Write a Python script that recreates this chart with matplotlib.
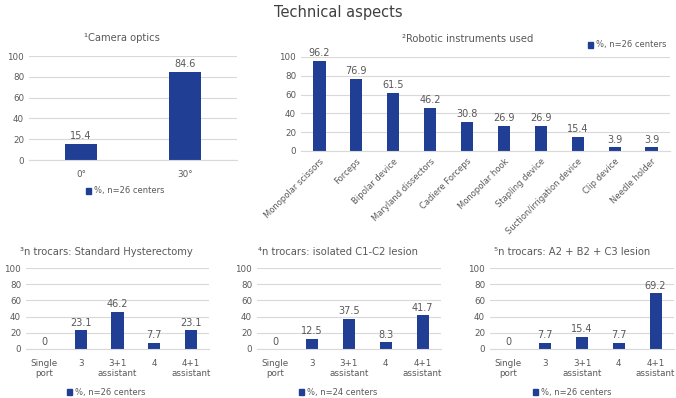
import numpy as np
from matplotlib import pyplot as plt
from matplotlib.patches import Patch

# data
optics_cats = ["0°", "30°"]
optics_vals = [15.4, 84.6]

instr_cats = ["Monopolar scissors", "Forceps", "Bipolar device", "Maryland dissectors",
              "Cadiere Forceps", "Monopolar hook", "Stapling device",
              "Suction/irrigation device", "Clip device", "Needle holder"]
instr_vals = [96.2, 76.9, 61.5, 46.2, 30.8, 26.9, 26.9, 15.4, 3.9, 3.9]

trocar_cats = ["Single\nport", "3", "3+1\nassistant", "4", "4+1\nassistant"]
std_hyst = [0, 23.1, 46.2, 7.7, 23.1]
c1c2 = [0, 12.5, 37.5, 8.3, 41.7]
a2b2c3 = [0, 7.7, 15.4, 7.7, 69.2]

BLUE = "#203f94"
GREY = "#595959"
W, H = 676, 398

plt.rcParams['font.family'] = ['DejaVu Sans']
fig = plt.figure(figsize=(W / 100, H / 100), dpi=100)


def px_axes(x0, x1, ytop, ybot):
    return fig.add_axes([x0 / W, 1 - ybot / H, (x1 - x0) / W, (ybot - ytop) / H])


def style(ax, fs=6.3):
    ax.set_ylim(0, 100)
    ax.set_yticks([0, 20, 40, 60, 80, 100])
    ax.grid(axis='y', color='#d9d9d9', lw=0.8)
    ax.set_axisbelow(True)
    for s in ['top', 'right', 'left']:
        ax.spines[s].set_visible(False)
    ax.spines['bottom'].set_color('#d9d9d9')
    ax.tick_params(length=0, labelsize=fs, colors=GREY)


def labels(ax, x, vals, fs=7):
    for xi, v in zip(x, vals):
        ax.text(xi, v + 3, f"{v:g}", ha='center', va='bottom', fontsize=fs, color=GREY)


def title(txt, xc, yc):
    fig.text(xc / W, 1 - yc / H, txt, ha='center', va='center', fontsize=7.2, color=GREY)


def legend(ax, label, xc, yc):
    h = [Patch(color=BLUE, label=label)]
    ax.legend(handles=h, loc='center', bbox_to_anchor=(xc / W, 1 - yc / H),
              bbox_transform=fig.transFigure, frameon=False, fontsize=6,
              handlelength=0.7, handleheight=0.7, handletextpad=0.3,
              labelcolor=GREY, borderpad=0)


fig.text(0.5, 1 - 12 / H, "Technical aspects", ha='center', va='center', fontsize=10.5, color='#404040')

# camera optics
ax1 = px_axes(29, 237, 56, 160)
x = np.arange(len(optics_cats))
ax1.bar(x, optics_vals, width=0.31, color=BLUE)
style(ax1)
ax1.set_xlim(-0.5, 1.5)
ax1.set_xticks(x, optics_cats)
ax1.tick_params(axis='x', pad=7)
labels(ax1, x, optics_vals)
title("¹Camera optics", 122, 38)
legend(ax1, "%, n=26 centers", 125, 191)

# robotic instruments
ax2 = px_axes(301, 670, 57, 151)
x = np.arange(len(instr_cats))
ax2.bar(x, instr_vals, width=0.33, color=BLUE)
style(ax2, fs=6)
ax2.tick_params(axis='y', labelsize=6.3)
ax2.set_xlim(-0.5, len(instr_cats) - 0.5)
ax2.set_xticks(x, instr_cats, rotation=45, ha='right', rotation_mode='anchor')
ax2.tick_params(axis='x', pad=4)
labels(ax2, x, instr_vals)
title("²Robotic instruments used", 468, 39)
legend(ax2, "%, n=26 centers", 627, 45)

# trocar panels
panels = [
    ("³n trocars: Standard Hysterectomy", std_hyst, "%, n=26 centers", 26, 209, 106),
    ("⁴n trocars: isolated C1-C2 lesion", c1c2, "%, n=24 centers", 257, 441, 338),
    ("⁵n trocars: A2 + B2 + C3 lesion", a2b2c3, "%, n=26 centers", 490, 674, 572),
]
for ttl, vals, leg, x0, x1, cx in panels:
    ax = px_axes(x0, x1, 268, 349)
    x = np.arange(len(trocar_cats))
    ax.bar(x, vals, width=0.33, color=BLUE)
    style(ax)
    ax.set_xlim(-0.5, len(trocar_cats) - 0.5)
    ax.set_xticks(x, trocar_cats, va='top')
    ax.tick_params(axis='x', pad=7)
    labels(ax, x, vals)
    title(ttl, cx, 252)
    legend(ax, leg, cx, 392)

fig.savefig("out.png", dpi=100)
